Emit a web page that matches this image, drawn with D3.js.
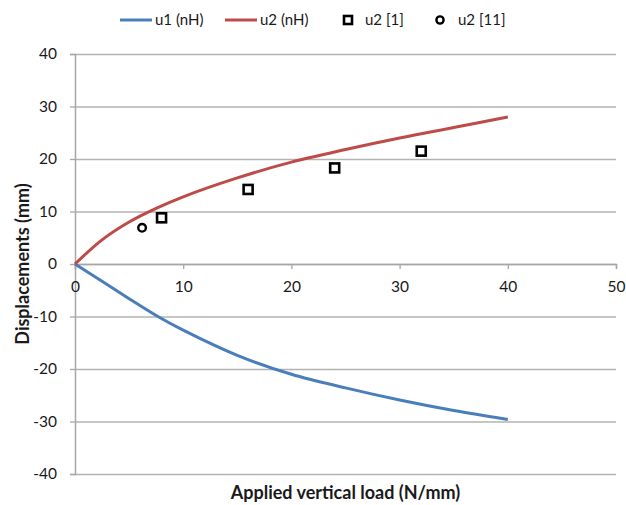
<!DOCTYPE html>
<html>
<head>
<meta charset="utf-8">
<script src="https://cdn.jsdelivr.net/npm/d3@7"></script>
<style>
    body { margin: 0; background: #fff; }
    text { font-family: Lato, "Open Sans", sans-serif; fill: #1a1a1a; }
</style>
</head>
<body>
<div id="chart"></div>
<script>

// applied load (N/mm) and displacements (mm)
let loads = [0, 2.5, 5, 7.5, 10, 15, 20, 25, 30, 35, 40];
let u1nH = [0, -3.3, -6.6, -9.8, -12.6, -17.4, -21.0, -23.6, -25.9, -27.9, -29.6];
let u2nH = [0, 4.6, 8.0, 10.6, 12.8, 16.4, 19.4, 21.8, 24.0, 26.0, 28.0];

// experimental points
let ref1Load = [8, 16, 24, 32];
let ref1U2 = [8.8, 14.2, 18.3, 21.5];
let ref11Load = [6.2];
let ref11U2 = [6.9];

let xTicks = [0, 10, 20, 30, 40, 50];
let yTicks = [-40, -30, -20, -10, 0, 10, 20, 30, 40];

let margin = {top: 54, right: 10, bottom: 31, left: 75};
let width = 626 - margin.left - margin.right;
let height = 505 - margin.top - margin.bottom;

let svg = d3.select("#chart").append("svg")
    .attr("width", 626)
    .attr("height", 505);

let g = svg.append("g")
    .attr("transform", "translate(" + margin.left + "," + margin.top + ")");

let x = d3.scaleLinear().domain([0, 50]).range([0, 541]);
let y = d3.scaleLinear().domain([-40, 40]).range([height, 0]);

// plain hyphen for negatives, like the original
let fmt = d => String(d);

// horizontal gridlines
g.append("g")
    .call(d3.axisLeft(y).tickValues(yTicks).tickSize(-541).tickFormat(""))
    .call(a => a.select(".domain").remove())
    .selectAll("line")
    .attr("stroke", "#b3b3b3")
    .attr("stroke-width", 1.3);

// y axis
let yAxis = g.append("g")
    .call(d3.axisLeft(y).tickValues(yTicks).tickFormat(fmt).tickSize(5).tickPadding(13));
yAxis.select(".domain").attr("stroke", "#a6a6a6").attr("stroke-width", 1.5);
yAxis.selectAll("line").attr("stroke", "#a6a6a6").attr("stroke-width", 1.3);
yAxis.selectAll("text").style("font-size", "15.5px").attr("fill", "#1a1a1a");

// x axis sits on zero
let xAxis = g.append("g")
    .attr("transform", "translate(0," + y(0) + ")")
    .call(d3.axisBottom(x).tickValues(xTicks).tickFormat(fmt).tickSize(5).tickPadding(12));
xAxis.select(".domain").attr("stroke", "#a6a6a6").attr("stroke-width", 1.5);
xAxis.selectAll("line").attr("stroke", "#a6a6a6").attr("stroke-width", 1.3);
xAxis.selectAll("text").style("font-size", "15.5px").attr("fill", "#1a1a1a");

// lines
let line = d3.line()
    .x(d => x(d[0]))
    .y(d => y(d[1]))
    .curve(d3.curveCatmullRom.alpha(0.5));

g.append("path")
    .datum(loads.map((l, i) => [l, u1nH[i]]))
    .attr("d", line)
    .attr("fill", "none")
    .attr("stroke", "#4a7ebb")
    .attr("stroke-width", 3);

g.append("path")
    .datum(loads.map((l, i) => [l, u2nH[i]]))
    .attr("d", line)
    .attr("fill", "none")
    .attr("stroke", "#be4b48")
    .attr("stroke-width", 3);

// markers
g.selectAll(".sq")
    .data(ref1Load.map((l, i) => [l, ref1U2[i]]))
    .enter().append("rect")
    .attr("class", "sq")
    .attr("x", d => x(d[0]) - 4.5)
    .attr("y", d => y(d[1]) - 4.5)
    .attr("width", 9)
    .attr("height", 9)
    .attr("fill", "#fff")
    .attr("stroke", "#000")
    .attr("stroke-width", 2.6);

g.selectAll(".circ")
    .data(ref11Load.map((l, i) => [l, ref11U2[i]]))
    .enter().append("circle")
    .attr("class", "circ")
    .attr("cx", d => x(d[0]))
    .attr("cy", d => y(d[1]))
    .attr("r", 3.8)
    .attr("fill", "#fff")
    .attr("stroke", "#000")
    .attr("stroke-width", 2.4);

// axis titles
svg.append("text")
    .attr("x", 75 + 541 / 2)
    .attr("y", 499)
    .attr("text-anchor", "middle")
    .style("font-size", "18px")
    .style("font-weight", "bold")
    .text("Applied vertical load (N/mm)");

svg.append("text")
    .attr("transform", "translate(29," + (margin.top + height / 2) + ") rotate(-90)")
    .attr("text-anchor", "middle")
    .style("font-size", "18px")
    .style("font-weight", "bold")
    .text("Displacements (mm)");

// legend
let legend = svg.append("g").attr("transform", "translate(0,20)");

legend.append("line").attr("x1", 120).attr("x2", 152).attr("y1", 0).attr("y2", 0)
    .attr("stroke", "#4a7ebb").attr("stroke-width", 3);
legend.append("text").attr("x", 155).attr("y", 5).style("font-size", "15px").text("u1 (nH)");

legend.append("line").attr("x1", 225).attr("x2", 257).attr("y1", 0).attr("y2", 0)
    .attr("stroke", "#be4b48").attr("stroke-width", 3);
legend.append("text").attr("x", 260).attr("y", 5).style("font-size", "15px").text("u2 (nH)");

legend.append("rect").attr("x", 344).attr("y", -4).attr("width", 8).attr("height", 8)
    .attr("fill", "#fff").attr("stroke", "#000").attr("stroke-width", 2.6);
legend.append("text").attr("x", 365).attr("y", 5).style("font-size", "15px").text("u2 [1]");

legend.append("circle").attr("cx", 440).attr("cy", 0).attr("r", 3.6)
    .attr("fill", "#fff").attr("stroke", "#000").attr("stroke-width", 2.4);
legend.append("text").attr("x", 458).attr("y", 5).style("font-size", "15px").text("u2 [11]");

</script>
</body>
</html>
